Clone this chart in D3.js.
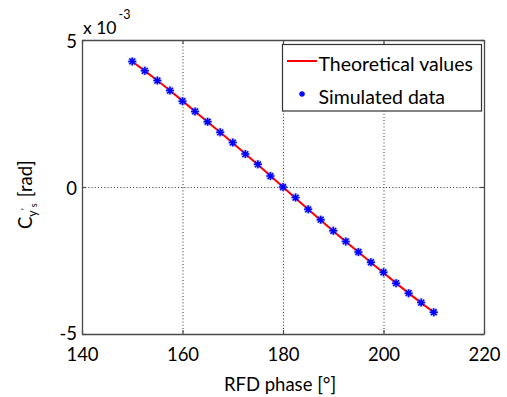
<!DOCTYPE html>
<html>
<head>
<meta charset="utf-8">
<script src="https://cdn.jsdelivr.net/npm/d3@7"></script>
<style>
  html, body { margin: 0; padding: 0; background: #fff; }
  svg { display: block; font-family: Lato, "Open Sans", sans-serif; }
</style>
</head>
<body>
<svg id="chart" width="507" height="397"></svg>
<script>
// ---- data ----
const phase = [150, 152.5, 155, 157.5, 160, 162.5, 165, 167.5, 170, 172.5, 175, 177.5, 180,
               182.5, 185, 187.5, 190, 192.5, 195, 197.5, 200, 202.5, 205, 207.5, 210];
const simulated = [4.27e-3, 3.95e-3, 3.62e-3, 3.28e-3, 2.92e-3, 2.57e-3, 2.22e-3, 1.86e-3, 1.51e-3,
                   1.12e-3, 0.77e-3, 0.37e-3, 0.0, -0.36e-3, -0.76e-3, -1.11e-3, -1.49e-3, -1.85e-3,
                   -2.21e-3, -2.56e-3, -2.90e-3, -3.27e-3, -3.61e-3, -3.93e-3, -4.26e-3];
const theoretical = [4.27e-3, 3.95e-3, 3.62e-3, 3.28e-3, 2.93e-3, 2.57e-3, 2.21e-3, 1.86e-3, 1.50e-3,
                     1.13e-3, 0.76e-3, 0.38e-3, 0.0, -0.38e-3, -0.76e-3, -1.13e-3, -1.50e-3, -1.86e-3,
                     -2.21e-3, -2.57e-3, -2.92e-3, -3.27e-3, -3.61e-3, -3.94e-3, -4.26e-3];
const xTicks = [140, 160, 180, 200, 220];
const yTicks = [-5e-3, 0, 5e-3];
const yTickLabels = ["-5", "0", "5"];
const xGrid = [160, 180, 200];
const yGrid = [0];
const legendLabels = ["Theoretical values", "Simulated data"];

// ---- layout ----
const L = 82, T = 40, R = 484, B = 334;
const svg = d3.select("#chart");
const x = d3.scaleLinear().domain([140, 220]).range([L, R]);
const y = d3.scaleLinear().domain([-5e-3, 5e-3]).range([B, T]);
const axisColor = "#4a4a4a";
const fontSize = 18.5;

// grid
const grid = svg.append("g").attr("stroke", "#333").attr("stroke-width", 1)
  .attr("stroke-dasharray", "1,2.2");
grid.selectAll(".gx").data(xGrid).join("line")
  .attr("x1", d => x(d) + 0.5).attr("x2", d => x(d) + 0.5).attr("y1", T).attr("y2", B);
grid.selectAll(".gy").data(yGrid).join("line")
  .attr("x1", L).attr("x2", R).attr("y1", d => Math.round(y(d)) + 0.5).attr("y2", d => Math.round(y(d)) + 0.5);

// axes
function styleAxis(g) {
  g.select(".domain").attr("stroke", axisColor).attr("stroke-width", 1.3);
  g.selectAll(".tick line").attr("stroke", axisColor).attr("stroke-width", 1.2);
  g.selectAll(".tick text").attr("fill", "#000").style("font-size", fontSize + "px")
    .style("font-family", "Lato, 'Open Sans', sans-serif");
}
svg.append("g").attr("transform", `translate(0,${B})`)
  .call(d3.axisBottom(x).tickValues(xTicks).tickSizeInner(-4).tickSizeOuter(0)
    .tickFormat(d3.format("d")))
  .call(styleAxis)
  .call(g => g.selectAll(".tick text").attr("y", 27).attr("dy", 0));
svg.append("g").attr("transform", `translate(0,${T})`)
  .call(d3.axisTop(x).tickValues(xTicks).tickSizeInner(-4).tickSizeOuter(0).tickFormat(""))
  .call(styleAxis);
svg.append("g").attr("transform", `translate(${L},0)`)
  .call(d3.axisLeft(y).tickValues(yTicks).tickSizeInner(-4).tickSizeOuter(0).tickPadding(5)
    .tickFormat(d => yTickLabels[yTicks.indexOf(d)]))
  .call(styleAxis)
  .call(g => g.selectAll(".tick text").attr("dy", d => d < 0 ? "0.3em" : "0.42em"));
svg.append("g").attr("transform", `translate(${R},0)`)
  .call(d3.axisRight(y).tickValues(yTicks).tickSizeInner(-4).tickSizeOuter(0).tickFormat(""))
  .call(styleAxis);

// exponent label
const ex = svg.append("text").attr("x", L + 1).attr("y", 34)
  .style("font-size", "17.5px").attr("fill", "#000");
ex.append("tspan").text("x 10");
ex.append("tspan").attr("dx", 2).attr("dy", -15).style("font-size", "12.5px").text("-3");

// theoretical line
svg.append("path")
  .datum(phase.map((p, i) => [p, theoretical[i]]))
  .attr("fill", "none").attr("stroke", "#ff0000").attr("stroke-width", 2)
  .attr("d", d3.line().x(d => x(d[0])).y(d => y(d[1])));

// asterisk markers
function asterisk(s) {
  const d = s * 0.72;
  return `M${-s},0H${s}M0,${-s}V${s}M${-d},${-d}L${d},${d}M${-d},${d}L${d},${-d}`;
}
const pts = svg.append("g");
pts.selectAll("circle").data(phase).join("circle")
  .attr("cx", d => x(d)).attr("cy", (d, i) => y(simulated[i])).attr("r", 4.5)
  .attr("fill", "#5a6cff").attr("opacity", 0.35);
pts.selectAll("path").data(phase).join("path")
  .attr("transform", (d, i) => `translate(${x(d)},${y(simulated[i])})`)
  .attr("d", asterisk(4)).attr("stroke", "#0000ff").attr("stroke-width", 1.5).attr("fill", "none");

// legend
const lg = svg.append("g");
lg.append("rect").attr("x", 282.5).attr("y", 44.5).attr("width", 199).attr("height", 66.5)
  .attr("fill", "#fff").attr("stroke", "#333").attr("stroke-width", 1.2);
lg.append("line").attr("x1", 287).attr("x2", 317).attr("y1", 61).attr("y2", 61)
  .attr("stroke", "#ff0000").attr("stroke-width", 2);
lg.append("path").attr("transform", "translate(302,94)").attr("d", asterisk(3))
  .attr("stroke", "#0000ff").attr("stroke-width", 1.3).attr("fill", "none");
lg.selectAll("text").data(legendLabels).join("text")
  .attr("x", 318.5).attr("y", (d, i) => 64 + i * 33).attr("dy", "0.36em")
  .style("font-size", "19.5px").attr("fill", "#000").text(d => d);

// x label
svg.append("text").attr("x", 280).attr("y", 384).attr("dy", "0.36em")
  .attr("text-anchor", "middle").style("font-size", fontSize + "px").attr("fill", "#000")
  .text("RFD phase [°]");

// y label
const yl = svg.append("text").attr("transform", "translate(32,229) rotate(-90)")
  .style("font-size", fontSize + "px").attr("fill", "#000");
yl.append("tspan").text("C");
yl.append("tspan").attr("dy", 5).style("font-size", "12.5px").text("y");
yl.append("tspan").attr("dy", -9).style("font-size", "10px").text("'");
yl.append("tspan").attr("dy", 9).attr("dx", 1).style("font-size", "9px").text("s");
yl.append("tspan").attr("dy", -5).attr("dx", 6).text("[rad]");
</script>
</body>
</html>
